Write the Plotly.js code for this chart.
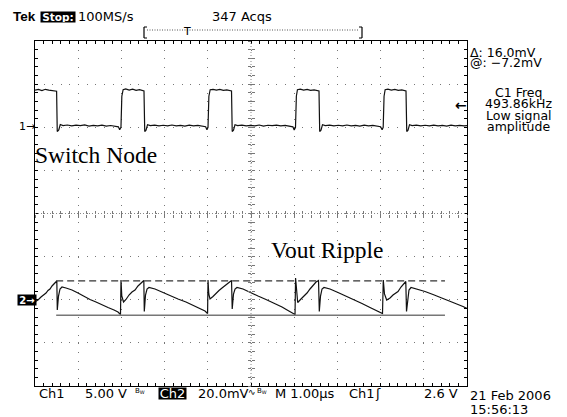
<!DOCTYPE html>
<html>
<head>
<meta charset="utf-8">
<script src="https://cdn.plot.ly/plotly-3.0.1.min.js"></script>
<style>html,body{margin:0;padding:0;background:#fff;}#plot{width:567px;height:417px;}</style>
</head>
<body>
<div id="plot"></div>
<script>
// ---- Channel 1: switch node (time in µs, volts) ----
const ch1Time = [
  0,0.08,0.16,0.24,0.32,0.40,0.48,
  0.50,0.515,0.55,0.585,0.65,
  0.75,0.85,0.95,1.05,1.15,1.25,1.35,1.45,1.55,1.65,1.75,1.85,1.93,1.96,
  1.99,2.01,2.04,
  2.10,2.18,2.26,2.34,2.42,2.50,
  2.523,2.54,2.57,2.605,2.67,
  2.77,2.87,2.97,3.07,3.17,3.27,3.37,3.47,3.57,3.67,3.77,3.87,3.95,3.98,
  4.005,4.025,4.055,
  4.12,4.20,4.28,4.36,4.44,4.52,
  4.549,4.565,4.595,4.63,4.69,
  4.79,4.89,4.99,5.09,5.19,5.29,5.39,5.49,5.59,5.69,5.79,5.89,5.97,6.00,
  6.03,6.05,6.075,
  6.14,6.22,6.30,6.38,6.46,6.54,
  6.574,6.59,6.62,6.655,6.72,
  6.82,6.92,7.02,7.12,7.22,7.32,7.42,7.52,7.62,7.72,7.82,7.92,8.00,8.035,
  8.06,8.08,8.105,
  8.17,8.25,8.33,8.41,8.49,8.56,
  8.588,8.605,8.635,8.67,8.73,
  8.83,8.93,9.03,9.13,9.23,9.33,9.43,9.53,9.63,9.73,9.83,9.93,10
];
const ch1Volts = [
  4.30,4.38,4.25,4.40,4.30,4.22,4.20,
  4.18,-0.50,-0.30,0.32,0.20,
  0.26,0.15,0.24,0.18,0.27,0.14,0.22,0.17,0.25,0.13,0.20,0.10,0.05,-0.30,
  0.00,3.60,4.35,
  4.45,4.30,4.42,4.28,4.35,4.22,
  4.20,-0.50,-0.35,0.30,0.20,
  0.25,0.16,0.23,0.15,0.26,0.17,0.22,0.14,0.24,0.16,0.21,0.12,0.06,-0.30,
  0.00,3.60,4.35,
  4.40,4.30,4.38,4.28,4.33,4.24,
  4.20,-0.50,-0.35,0.30,0.20,
  0.24,0.15,0.22,0.17,0.26,0.14,0.23,0.18,0.25,0.15,0.21,0.12,0.05,-0.32,
  0.00,3.60,4.35,
  4.42,4.30,4.38,4.27,4.34,4.22,
  4.20,-0.50,-0.35,0.30,0.20,
  0.25,0.16,0.23,0.15,0.26,0.17,0.22,0.13,0.24,0.16,0.21,0.12,0.06,-0.30,
  0.00,3.60,4.35,
  4.42,4.30,4.38,4.27,4.33,4.22,
  4.20,-0.50,-0.35,0.30,0.20,
  0.24,0.16,0.23,0.15,0.25,0.17,0.22,0.14,0.24,0.16,0.21,0.15,0.20
];

// ---- Channel 2: output ripple (time in µs, millivolts) ----
const ch2Time = [
  0,0.069,0.139,0.185,0.255,0.301,0.347,0.394,0.440,0.486,
  0.505,0.516,0.544,0.579,0.625,
  0.718,0.856,0.995,1.134,1.273,1.412,1.551,1.690,1.829,1.921,1.979,
  1.991,2.009,2.049,
  2.106,2.176,2.245,2.315,2.384,2.454,2.519,
  2.530,2.558,2.593,2.639,
  2.778,2.940,3.125,3.310,3.495,3.681,3.819,3.935,3.995,
  4.005,4.023,4.051,
  4.120,4.190,4.259,4.329,4.421,4.491,4.549,
  4.565,4.595,4.630,4.676,
  4.815,4.977,5.162,5.347,5.532,5.718,5.856,5.949,6.019,
  6.032,6.053,6.081,
  6.157,6.227,6.296,6.366,6.435,6.505,6.563,
  6.581,6.609,6.644,6.690,
  6.829,7.014,7.199,7.384,7.569,7.755,7.894,7.986,8.044,
  8.062,8.090,8.141,
  8.218,8.287,8.356,8.403,8.472,8.542,8.583,
  8.600,8.630,8.657,8.704,
  8.843,9.028,9.213,9.398,9.583,9.769,9.907,10.0
];
const ch2mV = [
  -0.90,-0.12,1.28,1.97,3.13,4.29,4.99,6.38,7.54,8.70,
  8.70,-4.75,1.74,4.99,5.91,
  5.45,4.52,3.13,1.51,0.12,-1.04,-2.44,-3.59,-4.75,-5.68,-6.84,
  9.16,1.74,-1.04,
  0.12,2.20,3.59,4.52,6.38,7.77,8.93,
  -5.45,2.20,4.99,5.68,
  4.99,3.59,1.74,0.35,-1.04,-2.67,-4.06,-5.22,-6.38,
  9.16,2.67,0.35,
  1.51,3.13,4.29,5.45,6.84,8.23,8.93,
  -4.29,2.67,4.99,5.68,
  4.99,3.36,1.74,0.12,-1.51,-3.36,-4.99,-5.91,-6.84,
  10.09,3.13,-1.28,
  0.35,1.74,3.13,4.99,6.84,8.23,8.93,
  -5.45,1.74,4.99,5.68,
  4.99,3.36,1.74,-0.12,-1.74,-3.59,-4.99,-5.91,-6.38,
  9.16,2.67,-0.12,
  0.81,2.20,3.36,3.83,5.91,7.77,8.47,
  -5.45,1.74,4.52,5.68,
  4.99,3.83,2.44,1.04,-0.35,-1.97,-3.13,-4.06
];

// ---- Cursors (mV) ----
const cursorTime = [0.49, 9.49];
const cursorHigh = [8.8, 8.8];
const cursorLow = [-7.2, -7.2];

// ---- Readout texts ----
const headerRate = "100MS/s";
const headerAcqs = "347 Acqs";
const cursorDelta = "\u0394: 16.0mV";
const cursorAt = "@: \u22127.2mV";
const measLines = ["C1 Freq", "493.86kHz", "Low signal", "amplitude"];
const dateText = "21 Feb 2006";
const timeText = "15:56:13";

// layout geometry helpers (pixel -> paper)
const L = 35, R = 467, T = 41, B = 386;
const PX = x => (x - L) / (R - L);
const PY = y => (B - y) / (B - T);
const F = 'DejaVu Sans';

function ann(text, x, y, o) {
  o = o || {};
  return Object.assign({
    text: text, xref: 'paper', yref: 'paper', x: PX(x), y: PY(y),
    xanchor: o.xa || 'left', yanchor: 'middle', showarrow: false,
    font: {family: o.family || F, size: o.size || 13, color: o.color || '#000'},
    borderpad: 0
  }, o.extra || {});
}

const traces = [
  {x: ch1Time, y: ch1Volts, xaxis: 'x', yaxis: 'y', mode: 'lines', line: {color: '#111', width: 1.2}, hoverinfo: 'skip'},
  {x: ch2Time, y: ch2mV, xaxis: 'x', yaxis: 'y2', mode: 'lines', line: {color: '#111', width: 1.2}, hoverinfo: 'skip'},
  {x: cursorTime, y: cursorHigh, xaxis: 'x', yaxis: 'y2', mode: 'lines', line: {color: '#333', width: 1.2, dash: '7px,4px'}, hoverinfo: 'skip'},
  {x: cursorTime, y: cursorLow, xaxis: 'x', yaxis: 'y2', mode: 'lines', line: {color: '#777', width: 1.6}, hoverinfo: 'skip'},
  {x: [], y: [], xaxis: 'x2', yaxis: 'y3', mode: 'lines', hoverinfo: 'skip'},
  {x: [], y: [], xaxis: 'x3', yaxis: 'y4', mode: 'lines', hoverinfo: 'skip'}
];

const centerTickAxis = (ticks) => ({
  overlaying: 'x', anchor: 'free', position: 0.5, range: [0, 10], dtick: 0.2, tick0: 0,
  ticks: ticks, ticklen: 3, tickcolor: '#777', tickwidth: 1,
  showticklabels: false, showgrid: false, showline: false, zeroline: false
});
const centerTickAxisY = (ticks) => ({
  overlaying: 'y', anchor: 'free', position: 0.5, range: [-30, 10], dtick: 1, tick0: 0,
  ticks: ticks, ticklen: 3, tickcolor: '#777', tickwidth: 1,
  showticklabels: false, showgrid: false, showline: false, zeroline: false
});

const layout = {
  width: 567, height: 417,
  margin: {l: L, r: 567 - R, t: T, b: 417 - B, pad: 0},
  paper_bgcolor: '#fff', plot_bgcolor: '#fff',
  showlegend: false, hovermode: false,
  xaxis: {
    range: [0, 10], dtick: 1, tick0: 0, showticklabels: false, zeroline: false,
    showgrid: true, gridcolor: '#777', griddash: '1px,7.64px', gridwidth: 1,
    showline: true, linecolor: '#000', linewidth: 1, mirror: 'ticks',
    ticks: 'inside', ticklen: 3, tickcolor: '#000',
    minor: {dtick: 0.2, ticks: 'inside', ticklen: 3, tickcolor: '#000', showgrid: false}
  },
  yaxis: {
    range: [-30, 10], dtick: 5, tick0: 0, showticklabels: false, zeroline: false,
    showgrid: true, gridcolor: '#777', griddash: '1px,7.62px', gridwidth: 1,
    showline: true, linecolor: '#000', linewidth: 1, mirror: 'ticks',
    ticks: 'inside', ticklen: 3, tickcolor: '#000',
    minor: {dtick: 1, ticks: 'inside', ticklen: 3, tickcolor: '#000', showgrid: false}
  },
  yaxis2: {overlaying: 'y', range: [-40, 120], visible: false},
  xaxis2: centerTickAxis('outside'),
  xaxis3: centerTickAxis('inside'),
  yaxis3: centerTickAxisY('outside'),
  yaxis4: centerTickAxisY('inside'),
  shapes: [
    {type: 'line', xref: 'paper', yref: 'paper', x0: 0, x1: 1, y0: 0.5, y1: 0.5, line: {color: '#888', width: 1, dash: '1px,2px'}},
    {type: 'line', xref: 'paper', yref: 'paper', x0: 0.5, x1: 0.5, y0: 0, y1: 1, line: {color: '#888', width: 1, dash: '1px,2px'}},
    // record bracket
    {type: 'line', xref: 'paper', yref: 'paper', x0: PX(144), x1: PX(144), y0: PY(27), y1: PY(38), line: {color: '#000', width: 1.2}},
    {type: 'line', xref: 'paper', yref: 'paper', x0: PX(144), x1: PX(147), y0: PY(27), y1: PY(27), line: {color: '#000', width: 1}},
    {type: 'line', xref: 'paper', yref: 'paper', x0: PX(144), x1: PX(147), y0: PY(38), y1: PY(38), line: {color: '#000', width: 1}},
    {type: 'line', xref: 'paper', yref: 'paper', x0: PX(362), x1: PX(362), y0: PY(27), y1: PY(38), line: {color: '#000', width: 1.2}},
    {type: 'line', xref: 'paper', yref: 'paper', x0: PX(359), x1: PX(362), y0: PY(27), y1: PY(27), line: {color: '#000', width: 1}},
    {type: 'line', xref: 'paper', yref: 'paper', x0: PX(359), x1: PX(362), y0: PY(38), y1: PY(38), line: {color: '#000', width: 1}},
    {type: 'line', xref: 'paper', yref: 'paper', x0: PX(147), x1: PX(359), y0: PY(30), y1: PY(30), line: {color: '#555', width: 1, dash: '1px,1.5px'}}
  ],
  annotations: [
    ann('<b>Tek</b>', 12, 16.5, {family: 'Liberation Sans', size: 13.5}),
    ann('<b>Stop:</b>', 40, 16.5, {size: 10.5, color: '#fff', extra: {bgcolor: '#000', width: 34, height: 10, align: 'center'}}),
    ann(headerRate, 77, 16.5),
    ann(headerAcqs, 211, 16.5),
    ann('T', 187, 31, {xa: 'center', size: 11}),
    ann(cursorDelta, 469, 52.5, {size: 12.5}),
    ann(cursorAt, 469, 62.8, {size: 12.5}),
    ann(measLines[0], 518.5, 92.5, {xa: 'center', size: 12.5}),
    ann(measLines[1], 518.5, 104, {xa: 'center', size: 12.5}),
    ann(measLines[2], 518.5, 115.2, {xa: 'center', size: 12.5}),
    ann(measLines[3], 518.5, 126, {xa: 'center', size: 12.5}),
    ann('<b>\u2190</b>', 468, 105, {xa: 'right', size: 14}),
    ann('1\u2192', 18, 126.7, {size: 11}),
    ann('<b>2\u2192</b>', 16.5, 300.3, {size: 10, color: '#fff', extra: {bgcolor: '#000', width: 18, height: 10, align: 'center'}}),
    ann('Switch Node', 34, 154.5, {family: 'Liberation Serif', size: 23.5}),
    ann('Vout Ripple', 270, 250, {family: 'Liberation Serif', size: 23.5}),
    ann('Ch1', 38, 393.3),
    ann('5.00 V', 84, 393.3),
    ann('B<sub>W</sub>', 134, 391, {size: 7}),
    ann('Ch2', 158, 393.3, {color: '#fff', extra: {bgcolor: '#000', width: 27, height: 11, align: 'center'}}),
    ann('20.0mV', 197, 393.3),
    ann('\u223F', 247, 392, {size: 9}),
    ann('B<sub>W</sub>', 256, 391, {size: 7}),
    ann('M 1.00\u00B5s', 274, 393.3),
    ann('Ch1', 348, 393.3),
    ann('\u0283', 374, 393.3),
    ann('2.6 V', 459, 393.3, {xa: 'right'}),
    ann(dateText, 469, 396),
    ann(timeText, 469, 409.5)
  ]
};

Plotly.newPlot('plot', traces, layout, {displayModeBar: false, staticPlot: true});
</script>
</body>
</html>
